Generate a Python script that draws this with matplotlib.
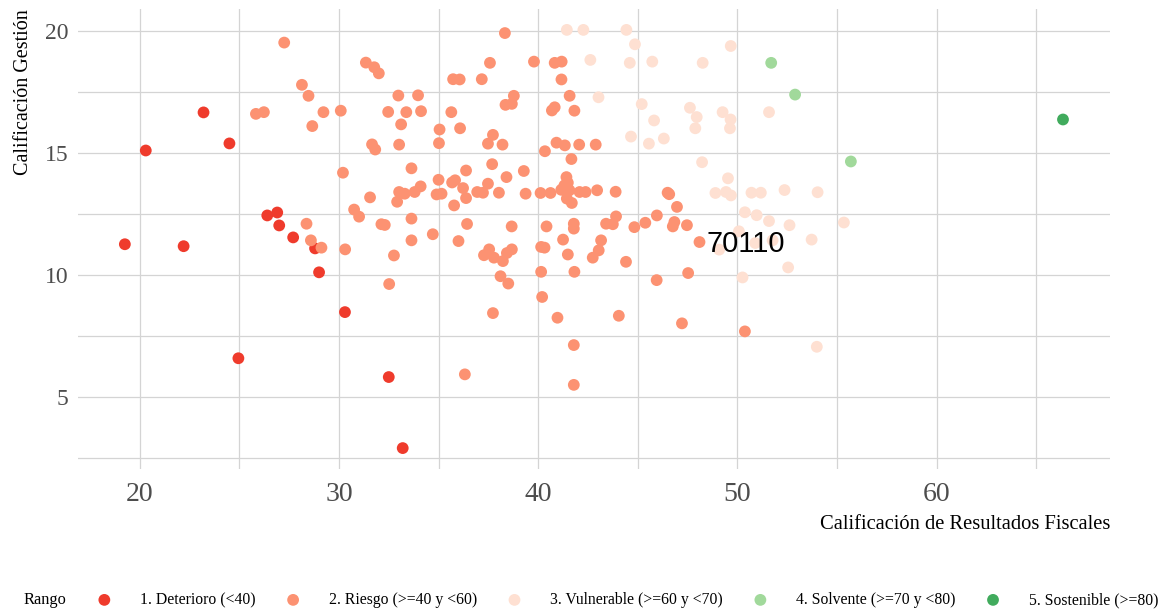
import numpy as np
import matplotlib
matplotlib.use("Agg")
import matplotlib.pyplot as plt
from matplotlib.ticker import MultipleLocator

plt.rcParams['font.family'] = ['Liberation Serif', 'DejaVu Serif']

# Calificación de Resultados Fiscales (x) / Calificación Gestión (y), by Rango
deterioro_x = [19.25, 20.3, 22.2, 23.2, 24.5, 26.4, 26.9, 27.0, 27.7, 28.8, 29.0, 24.95, 30.3, 32.5, 33.2]
deterioro_y = [11.25, 15.09, 11.17, 16.65, 15.38, 12.43, 12.55, 12.02, 11.53, 11.08, 10.1, 6.58, 8.47, 5.81, 2.9]

riesgo_x = [27.25, 31.35, 31.77, 32.0, 28.14, 28.47, 25.83, 26.23, 29.22, 30.09, 28.66, 31.66, 31.82, 30.2,
            31.56, 30.76, 31.01, 32.13, 28.37, 28.59, 29.12, 30.31,
            38.33, 32.98, 33.97, 32.47, 33.38, 34.12, 33.12, 33.02, 35.73, 36.06, 37.17, 37.58, 35.64, 35.05,
            36.08, 35.02, 37.48, 37.73, 38.21, 38.36, 38.78, 38.68, 39.79, 40.83, 41.18, 41.17, 41.58, 40.69,
            40.83, 41.82, 40.34, 40.92, 41.34, 42.06, 42.89, 41.67, 33.64, 36.38, 37.69, 39.28, 38.41,
            33.02, 33.3, 32.92, 33.8, 34.1, 35.0, 34.9, 35.15, 35.68, 35.83, 36.23, 36.38, 35.78, 36.94, 37.23,
            37.48, 38.03, 39.37, 40.12, 40.62, 41.16, 41.42, 41.49, 41.32, 41.57, 41.69, 41.44, 42.08, 42.38,
            42.96, 32.3, 33.64, 33.64, 34.71, 32.76, 32.52, 36.43, 36.0, 38.67, 37.54, 37.28, 37.78, 38.23,
            38.43, 38.68, 38.11, 38.5, 37.73, 36.32, 40.42, 40.15, 40.32, 41.25, 41.49, 41.79, 41.79, 40.15,
            41.82, 40.2, 40.97, 41.79, 41.79, 42.74, 43.04, 43.16,
            43.89, 46.5, 46.58, 46.97, 45.96, 45.38, 44.83, 43.91, 43.75, 43.41, 46.84, 46.76, 47.47, 48.1,
            44.41, 45.95, 47.53, 44.05, 47.22, 50.38]
riesgo_y = [19.51, 18.69, 18.5, 18.25, 17.78, 17.33, 16.59, 16.66, 16.66, 16.72, 16.09, 15.34, 15.13, 14.18,
            13.17, 12.67, 12.38, 12.07, 12.09, 11.41, 11.11, 11.04,
            19.9, 17.34, 17.35, 16.67, 16.66, 16.7, 16.16, 15.33, 18.01, 18.0, 18.01, 18.68, 16.66, 15.95,
            16.0, 15.39, 15.37, 15.73, 15.33, 16.96, 17.33, 17.0, 18.73, 18.68, 18.73, 18.0, 17.33, 16.73,
            16.86, 16.72, 15.06, 15.41, 15.3, 15.33, 15.33, 14.74, 14.36, 14.27, 14.53, 14.25, 14.0,
            13.39, 13.32, 12.99, 13.39, 13.62, 13.89, 13.29, 13.32, 13.78, 13.87, 13.55, 13.14, 12.84, 13.39,
            13.36, 13.73, 13.36, 13.32, 13.35, 13.35, 13.48, 14.0, 13.77, 13.66, 13.46, 12.94, 13.12, 13.39,
            13.39, 13.46, 12.04, 12.3, 11.41, 11.66, 10.79, 9.62, 12.08, 11.38, 11.98, 11.04, 10.8, 10.7,
            10.56, 10.89, 11.04, 9.94, 9.64, 8.43, 5.92, 11.98, 11.14, 11.11, 11.44, 10.83, 12.09, 11.89,
            10.12, 10.12, 9.09, 8.24, 7.12, 5.49, 10.7, 11.0, 11.41,
            13.4, 13.36, 13.3, 12.78, 12.43, 12.13, 11.95, 12.39, 12.07, 12.09, 12.16, 11.98, 12.03, 11.34,
            10.53, 9.78, 10.07, 8.32, 8.01, 7.68]

vulnerable_x = [41.44, 42.27, 44.43, 44.86, 49.67, 42.62, 44.6, 45.73, 48.26, 43.03, 45.2, 47.62, 47.96, 49.26,
                49.66, 49.63, 47.89, 45.82, 51.59, 44.66, 45.56, 46.31, 48.23, 49.53, 48.9, 49.43, 49.68,
                50.71, 51.18, 52.37, 54.03, 55.35, 50.38, 50.97, 51.59, 52.62, 50.08, 50.9, 51.77, 49.09,
                53.73, 52.55, 50.26, 53.99]
vulnerable_y = [20.03, 20.03, 20.03, 19.44, 19.37, 18.8, 18.68, 18.73, 18.68, 17.27, 16.99, 16.84, 16.46, 16.66,
                16.36, 16.0, 16.0, 16.32, 16.66, 15.66, 15.37, 15.58, 14.61, 13.95, 13.35, 13.39, 13.25,
                13.36, 13.36, 13.47, 13.38, 12.14, 12.56, 12.44, 12.2, 12.03, 11.78, 11.3, 11.41, 11.03,
                11.44, 10.3, 9.89, 7.05]

solvente_x = [51.7, 52.9, 55.7]
solvente_y = [18.68, 17.38, 14.64]

sostenible_x = [66.35]
sostenible_y = [16.36]

rangos = ["1. Deterioro (<40)", "2. Riesgo (>=40 y <60)", "3. Vulnerable (>=60 y <70)",
          "4. Solvente (>=70 y <80)", "5. Sostenible (>=80)"]
colores = ["#EF3B2C", "#FC9272", "#FEE0D2", "#A1D99B", "#41AB5D"]

etiqueta = "70110"
etiqueta_x, etiqueta_y = 50.4, 11.25

fig = plt.figure(figsize=(11.74, 6.11), dpi=100)
ax = fig.add_axes([0.0664, 0.2324, 0.879, 0.7529])

series = [(deterioro_x, deterioro_y), (riesgo_x, riesgo_y), (vulnerable_x, vulnerable_y),
          (solvente_x, solvente_y), (sostenible_x, sostenible_y)]
handles = []
for (xs, ys), lab, col in zip(series, rangos, colores):
    h = ax.scatter(xs, ys, s=72, c=col, edgecolors='none', label=lab, zorder=3)
    handles.append(h)

ax.text(etiqueta_x, etiqueta_y, etiqueta, family='Liberation Sans', fontsize=20.8,
        ha='center', va='center', color='black', zorder=4)

ax.margins(0.05)
ax.xaxis.set_major_locator(MultipleLocator(10))
ax.xaxis.set_minor_locator(MultipleLocator(5))
ax.yaxis.set_major_locator(MultipleLocator(5))
ax.yaxis.set_minor_locator(MultipleLocator(2.5))
ax.grid(True, which='both', color='#d4d4d4', linewidth=0.9, zorder=0)
ax.set_axisbelow(True)
for sp in ax.spines.values():
    sp.set_visible(False)
ax.tick_params(which='both', length=0)
ax.tick_params(axis='x', labelsize=20, labelcolor='#4d4d4d', pad=9)
ax.tick_params(axis='y', labelsize=17, labelcolor='#4d4d4d', pad=7)

ax.set_xlabel("Calificación de Resultados Fiscales", fontsize=14.8, loc='right', labelpad=6)
ax.set_ylabel("Calificación Gestión", fontsize=14.5, loc='top', labelpad=8)

fig.text(0.0204, 0.018, "Rango", fontsize=11.8, va='center', ha='left')
fig.legend(handles=handles, labels=rangos, loc='center left', bbox_to_anchor=(0.0822, 0.018),
           ncol=5, frameon=False, fontsize=11.3, handlelength=1.0, handletextpad=1.78,
           columnspacing=1.88, borderpad=0, borderaxespad=0, markerscale=1.0)

fig.savefig("out.png", dpi=100)
